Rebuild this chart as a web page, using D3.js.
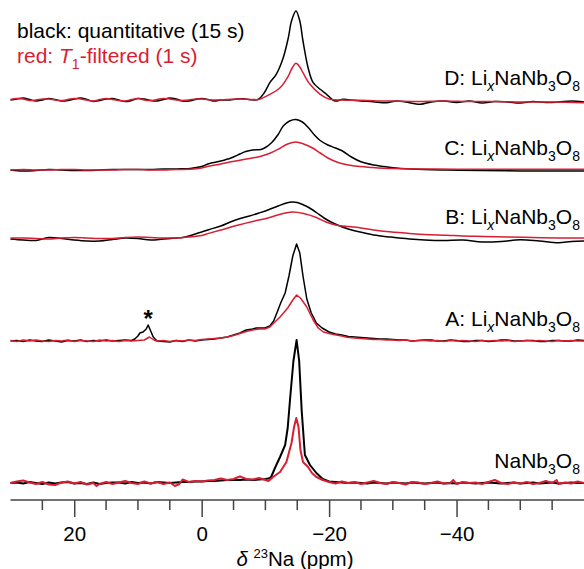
<!DOCTYPE html>
<html>
<head>
<meta charset="utf-8">
<script src="https://cdn.jsdelivr.net/npm/d3@7"></script>
<style>
  html, body { margin: 0; padding: 0; background: #fff; }
  svg { display: block; font-family: "Liberation Sans", Arial, sans-serif; }
</style>
</head>
<body>
<svg id="chart" width="584" height="569"></svg>
<script>
// ---------------- DATA ----------------
// x axis: chemical shift δ 23Na (ppm), reversed
const majorTicks = [20, 0, -20, -40];
const minorTicks = [25, 15, 10, 5, -5, -10, -15, -25, -30, -35, -45, -50, -55];

// sample names (bottom to top)
const samplePrefixes = ["", "A: Li", "B: Li", "C: Li", "D: Li"];
// vertical offsets of the stacked spectra (intensity units)
const stackOffsets = [0, 142, 244, 313, 383];

// Each spectrum: [ppm, intensity (a.u.)]
const nbBlack = [[30,0],[29,0.5],[28,-0.5],[27,1],[26,0],[25,-1],[24,0.5],[23,-0.5],[22,0.5],[21,1],[20,-0.5],[19,0],[18,-1],[17,0.5],[16,-1],[15,0],[14,0.5],[13,0.5],[12,-0.5],[11,1],[10,0],[9,0.5],[8,-0.5],[7,1],[6,0.5],[5,0],[4,0.5],[3,1],[2,1],[1,1.5],[0,1.5],[-1,2],[-2,2],[-3,2.5],[-4,3],[-5,3],[-6,3],[-7,3.5],[-8,3],[-9,3.5],[-10,4],[-10.5,4.5],[-10.9,6],[-11.5,15],[-12.3,26],[-13.1,38],[-13.5,55],[-13.9,86],[-14.4,122],[-14.9,143],[-15.3,122],[-15.7,72],[-16.2,28],[-17,18],[-18,10],[-19,4],[-20,1.5],[-21,1],[-22,0.5],[-23,0],[-24,0.5],[-25,0],[-26,-0.5],[-27,0.5],[-28,0],[-29,-0.5],[-30,0.5],[-31,0],[-32,-0.5],[-33,0.5],[-34,0],[-35,-0.5],[-36,0],[-37,0.5],[-38,-0.5],[-39,0],[-40,-0.5],[-41,0.5],[-42,0],[-43,-0.5],[-44,0],[-45,0.5],[-46,0],[-47,-0.5],[-48,0],[-49,0.5],[-50,-0.5],[-51,0],[-52,0.5],[-53,-0.5],[-54,0],[-55,0.5],[-56,-0.5],[-57,0],[-58,0.5],[-59,0],[-60,0]];
const nbRed = [[30,0],[29,1.5],[28,2.5],[27,0.5],[26,-1],[25,1],[24,-1.5],[23,-2],[22,0.5],[21,1.5],[20,-0.5],[19,1],[18,-1.5],[17,0],[16.5,-3],[16,-1],[15,1],[14,-1],[13,0.5],[12,2],[11,0],[10,-1],[9,1.5],[8,-0.5],[7,1],[6,-1],[5,0.5],[4.2,-3],[3.5,-1],[3,3.5],[2,1],[1,2],[0,1.5],[-1,2.5],[-2,3],[-3,4.5],[-4,3],[-5,4],[-6,6.5],[-7,4],[-8,3.5],[-9,5],[-10,3],[-10.5,2],[-11.2,6],[-12.3,11],[-13.3,21],[-14.1,40],[-14.5,56],[-14.85,65],[-15.2,56],[-15.5,33],[-15.9,21],[-16.7,16],[-17.3,10],[-18,6],[-19,3],[-20,1],[-21,-0.5],[-22,1.5],[-23,0],[-24,1],[-25,-1],[-26,0.5],[-27,2],[-28,0],[-29,-1],[-30,1],[-31,0],[-32,-1.5],[-33,1],[-34,0.5],[-35,-1],[-36,0],[-37,1.5],[-38,-0.5],[-39,0],[-39.5,3],[-40,-1],[-41,1],[-42,0],[-43,0.5],[-44,-1],[-45,1],[-46,3],[-47,0],[-48,-1],[-49,0.5],[-50,-0.5],[-51,1],[-52,-1],[-53,0],[-54,2],[-55,0],[-55.7,3],[-56,-1],[-57,0.5],[-58,-0.5],[-59,1.5],[-60,0]];

const aBlack = [[30,0],[29,0.5],[28,-0.5],[27,1],[26,0],[25,-0.5],[24,1],[23,0],[22,-1],[21,0.5],[20,0],[19,1],[18,-0.5],[17,0.5],[16,0],[15,1],[14,0],[13,0.5],[12,1],[11,0.5],[10.5,2],[10,5],[9.7,8],[9.2,9],[8.7,12],[8.4,16],[8,10],[7.6,4],[7,0],[6,-0.5],[5,-1],[4,0.5],[3,-0.5],[2,1],[1,0],[0,1],[-1,1.5],[-2,2],[-3,3],[-4,4],[-5,6],[-6,8],[-7,11],[-8,12],[-8.6,13],[-9.3,13],[-9.9,13],[-10.7,15],[-11.3,20],[-11.8,28],[-12.4,38],[-13.1,48],[-13.7,65],[-14.3,85],[-14.9,97],[-15.4,88],[-15.9,65],[-16.5,42],[-17.2,28],[-18,18],[-18.9,13],[-20,9],[-21,7],[-22,6],[-23,4.5],[-24,4],[-25,3.5],[-26,3],[-27,2.5],[-28,2],[-29,2],[-30,1.5],[-31,1],[-32,1],[-33,0],[-34,0.5],[-35,1],[-36,1],[-37,0],[-38,0],[-39,1],[-40,0.5],[-41,-0.5],[-42,-0.5],[-43,0.5],[-44,0.5],[-45,-0.5],[-46,0],[-47,1],[-48,1],[-49,0],[-50,0],[-51,0.5],[-52,0.5],[-53,-0.5],[-54,-0.5],[-55,0.5],[-56,0.5],[-57,0],[-58,0],[-59,1],[-60,0.5]];
const aRed = [[30,0.5],[29,-0.5],[28,1],[27,0],[26,1],[25,0],[24,-0.5],[23,0.5],[22,0],[21,1],[20,-0.5],[19,0.5],[18,0],[17,-0.5],[16,1],[15,0],[14,0.5],[13,-0.5],[12,0.5],[11,0],[10,0.5],[9,1],[8.2,4],[7.5,1],[7,0],[6,0.5],[5,-0.5],[4,0.5],[3,0],[2,1],[1,0.5],[0,1.5],[-1,2],[-2,2.5],[-3,3],[-4,4],[-5,5.5],[-6,7.5],[-7,9.5],[-8,11],[-9,12],[-9.9,12],[-10.7,14],[-11.5,19],[-12.3,24],[-13.5,33],[-14.3,41],[-14.9,46],[-15.5,43],[-16.5,34],[-17.5,21],[-18.3,13],[-19.1,9],[-20,7.5],[-20.7,6.5],[-22,5],[-22.8,3.7],[-24,3],[-25,2.5],[-26,2],[-27,1.5],[-28,1.5],[-29,1],[-30,1],[-31,0.5],[-32,1],[-33,0],[-34,0.5],[-35,0.5],[-36,0],[-37,0.5],[-38,-0.5],[-39,0.5],[-40,0],[-41,0.5],[-42,0],[-43,-0.5],[-44,0.5],[-45,0],[-46,0.5],[-47,0],[-48,0.5],[-49,-0.5],[-50,0],[-51,0.5],[-52,0],[-53,0.5],[-54,0],[-55,-0.5],[-56,0.5],[-57,0],[-58,0.5],[-59,0],[-60,0]];

const bBlack = [[30,0],[28,-1],[26,-1.5],[24,1.5],[22,0.5],[20,-1],[18,-2],[16,-2],[14,-0.5],[12,1],[10,0.5],[8,-1],[6,0],[4,1],[3,1.5],[2,3],[1,5],[0,7],[-1.1,9.3],[-3,13],[-4.5,17],[-5.8,20],[-7.5,23],[-9,26],[-10.4,29],[-12,33],[-13.3,36],[-14.2,37],[-15,36.5],[-16,34],[-16.8,31.5],[-18,26.5],[-19.2,21],[-20.3,17],[-21.5,13.5],[-23,10],[-24.5,7.4],[-27,4],[-29.7,1.9],[-32.6,0],[-35,-1],[-38,-1.5],[-41,-1],[-44,-3],[-47,-2.5],[-50,-0.7],[-53,-2],[-56,-3.7],[-58,-2.5],[-60,-2]];
const bRed = [[30,1],[28,1],[26,0.5],[24,0],[22,1],[20,1.5],[18,1],[16,0.5],[14,0.5],[12,1.5],[10,2],[8,1.5],[6,1],[4,1],[2,2],[0,3.5],[-1.1,5.6],[-3,9],[-5.8,14],[-8,17.5],[-10.4,21],[-12.5,25],[-14.2,27],[-16,25.5],[-18,21.5],[-19.5,17],[-21,14],[-23,12.5],[-24,12],[-26.8,9.3],[-29,7.5],[-32.6,5.6],[-35,4.5],[-38.5,3.7],[-41,3],[-44.3,2.6],[-48,2],[-52,1.5],[-56,1.1],[-60,1]];

const cBlack = [[30,0],[28,-1],[26,-0.5],[24,0.5],[22,0],[20,-0.5],[18,-0.5],[16,0],[14,0.5],[12,0.5],[10,0.5],[8,0.5],[6,1],[4,1],[3,1.2],[1.8,1.5],[0,3.5],[-1.1,6.3],[-3,9],[-4.6,12],[-6,16],[-6.9,18.5],[-8,20],[-9.3,20.5],[-10,22.5],[-11,27.5],[-12,35.5],[-12.8,44],[-13.8,49],[-14.8,50.5],[-15.8,48],[-16.8,42],[-17.7,35],[-18.6,29.5],[-19.8,25],[-21,22],[-22.1,19],[-23.5,13],[-25,8.2],[-27,5],[-29.7,2.6],[-33,1],[-38.5,0],[-44,-0.5],[-50,-1],[-56,-1.1],[-60,-1]];
const cRed = [[30,0],[28,0.5],[26,0],[24,0],[22,0.5],[20,0.5],[18,0],[16,0],[14,0],[12,0.5],[10,0.5],[8,0],[6,0],[4,0.5],[1.8,0.7],[0,2],[-1.1,3.7],[-3,6],[-4.6,8.2],[-7,11],[-9.3,13.8],[-10.8,17],[-12.1,21],[-13.5,26],[-14.8,28],[-16,26],[-17.4,22],[-18.6,17],[-19.8,12],[-21,8.5],[-22.1,6.3],[-24,4],[-26.8,2.6],[-30,1.5],[-35,1],[-40,0.7],[-50,0.7],[-60,0.7]];

const dBlack = [[30,0],[29,1],[28,2],[27,0.5],[26,-1],[25,0],[24,1.5],[23,0.5],[22,-1],[21,-0.5],[20,1],[19,2],[18,0.5],[17,-1.5],[16,-0.5],[15,1],[14,1.5],[13,0],[12,-1.5],[11,-0.5],[10,1.5],[9,1],[8,-0.5],[7,-1],[6,0.5],[5,2],[4,1],[3,-1],[2,-1],[1,0.5],[0,1.5],[-1,0.5],[-2,-1],[-3,0],[-4.4,0],[-5.5,1],[-6.5,1.3],[-7.6,0.3],[-8.9,0.7],[-9.8,7],[-10.7,17.3],[-11.7,25.7],[-12.8,42.3],[-13.6,62.3],[-14.1,79],[-14.8,89],[-15.4,79],[-15.9,59],[-16.7,32.3],[-17.5,17.3],[-18.6,10.7],[-19.6,5.7],[-20.9,-1],[-22.2,0.7],[-23.8,-0.3],[-25,-1],[-26.9,-1.7],[-29,-2.7],[-30.6,-1],[-32,-2],[-34.3,-4.3],[-36,-2],[-38,-1],[-40,-2.5],[-42,-1],[-44,-3],[-46,-1.5],[-48,-2],[-50,-3],[-52,-1.5],[-54,-2.5],[-56,-2],[-58,-1],[-60,-2]];
const dRed = [[30,0.5],[29,1.5],[28,1],[27,-0.5],[26,0],[25,1],[24,1],[23,0],[22,-0.5],[21,0.5],[20,1.5],[19,1],[18,0],[17,-1],[16,0.5],[15,1.5],[14,0.5],[13,-0.5],[12,-1],[11,0.5],[10,1.5],[9,0],[8,-0.5],[7,0.5],[6,1.5],[5,1],[4,0],[3,-0.5],[2,0],[1,1],[0,1],[-2,0],[-4,0.5],[-6,1],[-8,0.5],[-8.9,0.5],[-10.7,5.7],[-12.3,12.3],[-13.6,24],[-14.2,32],[-14.8,36.7],[-15.4,33],[-15.9,27.3],[-17,15.7],[-18.6,5.7],[-20.1,0.7],[-22,0],[-24,-0.3],[-26,-0.5],[-28,-1],[-30,-1],[-34,-1.5],[-38,-1],[-42,-1.5],[-46,-1.5],[-50,-2],[-55,-2],[-60,-2.7]];

const blackSeries = [nbBlack, aBlack, bBlack, cBlack, dBlack];
const redSeries = [nbRed, aRed, bRed, cRed, dRed];
const asteriskPpm = 8.4;

// ---------------- CHART ----------------
const W = 584, H = 569;
const RED = "#d81e32";
const svg = d3.select("#chart");
svg.append("rect").attr("width", W).attr("height", H).attr("fill", "#fff");

const x = d3.scaleLinear().domain([30, -60]).range([10.5, 584]);
const y = d3.scaleLinear().domain([0, 483]).range([483, 0]);

function lineFor(offset, noisy) {
  return d3.line()
    .x(d => x(d[0]))
    .y(d => y(offset + d[1]))
    .curve(noisy ? d3.curveLinear : d3.curveCatmullRom.alpha(0.5));
}

const g = svg.append("g");
for (let i = 0; i < blackSeries.length; i++) {
  const noisy = i <= 1;
  const sw = i === 0 ? 2 : 1.5;
  g.append("path").datum(blackSeries[i])
    .attr("d", lineFor(stackOffsets[i], noisy))
    .attr("fill", "none").attr("stroke", "#000").attr("stroke-width", sw)
    .attr("stroke-linejoin", "round");
  g.append("path").datum(redSeries[i])
    .attr("d", lineFor(stackOffsets[i], noisy))
    .attr("fill", "none").attr("stroke", RED).attr("stroke-width", sw)
    .attr("stroke-linejoin", "round");
}

// sample labels
for (let i = 0; i < samplePrefixes.length; i++) {
  const t = svg.append("text")
    .attr("x", 580).attr("y", y(stackOffsets[i]) - 15)
    .attr("text-anchor", "end").attr("font-size", 21).attr("fill", "#000");
  if (samplePrefixes[i]) {
    t.append("tspan").text(samplePrefixes[i]);
    t.append("tspan").attr("font-style", "italic").attr("font-size", 14).attr("dy", 6).text("x");
    t.append("tspan").attr("dy", -6).text("NaNb");
  } else {
    t.append("tspan").text("NaNb");
  }
  t.append("tspan").attr("font-size", 14).attr("dy", 6).text("3");
  t.append("tspan").attr("dy", -6).text("O");
  t.append("tspan").attr("font-size", 14).attr("dy", 6).text("8");
}

// asterisk
svg.append("text").attr("x", x(asteriskPpm)).attr("y", y(stackOffsets[1] + 16) + 2)
  .attr("text-anchor", "middle").attr("font-size", 24).attr("font-weight", "bold").text("*");

// legend
svg.append("text").attr("x", 17).attr("y", 38).attr("font-size", 21).attr("fill", "#000")
  .text("black: quantitative (15 s)");
const leg2 = svg.append("text").attr("x", 17).attr("y", 63).attr("font-size", 21).attr("fill", RED);
leg2.append("tspan").text("red: ");
leg2.append("tspan").attr("font-style", "italic").text("T");
leg2.append("tspan").attr("font-size", 14).attr("dy", 6).text("1");
leg2.append("tspan").attr("dy", -6).text("-filtered (1 s)");

// axis
const axisY = 500;
const axis = d3.axisBottom(x).tickValues(majorTicks).tickSize(17).tickPadding(9)
  .tickFormat(d3.format("d"));
const ax = svg.append("g").attr("transform", `translate(0,${axisY})`).call(axis);
ax.select(".domain").attr("stroke", "#444").attr("stroke-width", 1.5).attr("d", `M${x(30)},0H${x(-60)}`);
ax.selectAll(".tick line").attr("stroke", "#444").attr("stroke-width", 1.5);
ax.selectAll(".tick text").attr("font-size", 20.5).attr("fill", "#000")
  .attr("font-family", "'Liberation Sans', Arial, sans-serif");
const minorG = svg.append("g").attr("transform", `translate(0,${axisY})`);
minorG.selectAll("line").data(minorTicks).join("line")
  .attr("x1", d => x(d)).attr("x2", d => x(d)).attr("y1", 0).attr("y2", 10)
  .attr("stroke", "#444").attr("stroke-width", 1.5);

// axis title
const title = svg.append("text").attr("x", 295).attr("y", 566).attr("text-anchor", "middle")
  .attr("font-size", 20.5).attr("fill", "#000");
title.append("tspan").attr("font-style", "italic").text("δ");
title.append("tspan").text(" ");
title.append("tspan").attr("font-size", 13).attr("dy", -8).text("23");
title.append("tspan").attr("dy", 8).text("Na (ppm)");
</script>
</body>
</html>
